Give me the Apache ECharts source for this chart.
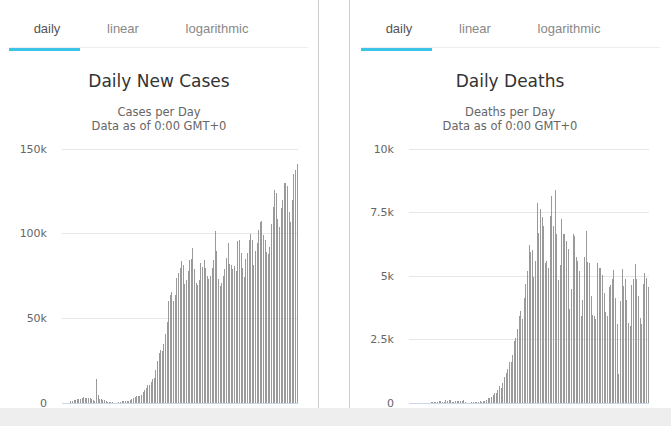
<!DOCTYPE html>
<html>
<head>
<meta charset="utf-8">
<title>Daily New Cases / Daily Deaths</title>
<style>
  html, body { margin: 0; padding: 0; background: #fff; }
  #main { width: 671px; height: 426px; }
  /* keeps the thin bars on whole pixels, like the original */
  #main svg path { shape-rendering: crispEdges; }
</style>
<script src="https://cdn.jsdelivr.net/npm/echarts@6/dist/echarts.min.js"></script>
</head>
<body>
<div id="main"></div>
<script>
// values, in thousands per day
var casesPerDay = [0.1, 0.1, 0.1, 0.2, 0.2, 1.2, 1.4, 1.5, 2, 2.1, 2.2, 2.6, 3, 3.5, 3.1, 3, 2.8, 3, 2.6, 2, 1.4,
  14, 4.7, 2.4, 2.2, 2, 1.8, 1.2, 0.8, 0.6, 0.6, 0.6, 0.2, 0.1, 0.2, 0.6, 0.8, 1, 1.2, 1.2, 1.2, 1.4,
  1.6, 2.2, 2.8, 3.5, 3.9, 3.9, 4.2, 4.6, 6.5, 7.5, 9, 10.4, 10.4, 12.4, 14, 15, 19.7, 25, 29.5, 31.5, 31, 35, 41, 48,
  60, 64, 65.5, 60, 63.7, 74, 76.7, 80, 83.8, 81.4, 70, 72.6, 77.9, 84.4, 85.2, 91.6, 79, 70.8, 69.6, 72.6, 82.6, 80.4, 84.4,
  80, 75, 73, 75, 79.6, 84.4, 101.5, 89.7, 73, 69, 71, 75, 79, 85.5, 94.4, 82, 81.4, 79, 80.8, 78, 95.6, 96.2, 88.5, 79.6, 74.3,
  85, 88.5, 96.2, 99.7, 96.2, 81.4, 89.7, 94.4, 102, 106.8, 107.4, 99, 96.2, 89, 88, 92, 106, 116, 125.7, 124, 108.6, 104, 115,
  120, 130, 130, 128, 112.7, 106.8, 120, 135, 137.5, 141]
var deathsPerDay = [0.01, 0.01, 0.01, 0.01, 0.01, 0.01, 0.01, 0.01, 0.01, 0.01, 0.01, 0.01, 0.01,
  0.04, 0.04, 0.04, 0.04, 0.04, 0.08, 0.08, 0.04, 0.03, 0.12, 0.08, 0.12, 0.12, 0.04, 0.03, 0.08, 0.08, 0.08, 0.08, 0.06, 0.12, 0.04,
  0.01, 0.01, 0.01, 0.04, 0.02, 0.04, 0.04, 0.04, 0.06, 0.05, 0.08, 0.08, 0.13, 0.18, 0.21, 0.25, 0.32, 0.38, 0.38, 0.5, 0.66, 0.58, 0.78,
  1.04, 1.2, 1.34, 1.6, 1.6, 1.89, 2.45, 2.55, 2.92, 3.43, 3.63, 3.31, 4.12, 4.69, 5.18, 6.22, 5.96, 6.03, 4.96, 5.59,
  7.87, 6.68, 7.64, 7.31, 6.95, 5.5, 5.59, 5.3, 7.36, 8.15, 6.97, 8.39, 6.64, 4.84, 5.44, 7.25, 6.64, 6.65,
  6.38, 6.07, 3.7, 4.49, 6.66, 6.58, 5.75, 5.59, 5.2, 3.43, 4.06, 5.75, 6.78, 5.55, 5.51, 4.21, 3.47, 3.43, 3.3,
  5.51, 5.32, 5.32, 5.04, 4.33, 3.58, 3.43, 4.57, 4.65, 4.88, 5.24, 4.14, 3.11, 1.14, 4.02, 5.28, 4.61, 4.88, 4.06, 3.15, 3.03,
  4.65, 4.88, 5.48, 4.88, 4.21, 3.35, 3.11, 4.69, 5.12, 4.92, 4.57]
var days = casesPerDay.map(function (v, i) { return i })
var tabNames = ['daily', 'linear', 'logarithmic']

var sansFont = '"DejaVu Sans", sans-serif'
var tabFont = '"Liberation Sans", Arial, sans-serif'

// tabs, underline, panel borders and the grey strip at the bottom
function tabBar(x0, x1, centers) {
  var els = [
    { type: 'line', shape: { x1: x0, y1: 47.5, x2: x1, y2: 47.5 }, style: { stroke: '#eeeeee', lineWidth: 1 } },
    { type: 'rect', shape: { x: x0, y: 48, width: 71, height: 3 }, style: { fill: '#3cc3e8' } }
  ]
  tabNames.forEach(function (name, i) {
    els.push({
      type: 'text', x: centers[i], y: 28.5,
      style: {
        text: name, fill: i === 0 ? '#555555' : '#888888', font: '13px ' + tabFont,
        textAlign: 'center', textVerticalAlign: 'middle'
      }
    })
  })
  return els
}

function subTitle(text, cx, y) {
  return {
    type: 'text', x: cx, y: y,
    style: { text: text, fill: '#666666', font: '11.5px ' + sansFont, textAlign: 'center', textVerticalAlign: 'middle' }
  }
}

function heading(text, cx) {
  return {
    type: 'text', x: cx, y: 81,
    style: { text: text, fill: '#333333', font: '17px ' + sansFont, textAlign: 'center', textVerticalAlign: 'middle' }
  }
}

var graphics = [
  { type: 'rect', shape: { x: 0, y: 408, width: 671, height: 18 }, style: { fill: '#eeeeee' } },
  { type: 'line', shape: { x1: 318.5, y1: 0, x2: 318.5, y2: 408 }, style: { stroke: '#cccccc', lineWidth: 1 } },
  { type: 'line', shape: { x1: 349.5, y1: 0, x2: 349.5, y2: 408 }, style: { stroke: '#cccccc', lineWidth: 1 } },
  heading('Daily New Cases', 159),
  heading('Daily Deaths', 510),
  subTitle('Cases per Day', 159, 111.5),
  subTitle('Data as of 0:00 GMT+0', 159, 126),
  subTitle('Deaths per Day', 510, 111.5),
  subTitle('Data as of 0:00 GMT+0', 510, 126)
].concat(tabBar(9, 308, [47, 123, 217])).concat(tabBar(361, 660, [399, 475, 569]))

function kLabel(v) {
  return v === 0 ? '0' : v + 'k'
}

var yAxisBase = {
  type: 'value', min: 0,
  axisLine: { show: false }, axisTick: { show: false },
  axisLabel: { color: '#666666', fontFamily: sansFont, fontSize: 11, margin: 15, formatter: kLabel },
  splitLine: { lineStyle: { color: '#e6e6e6', width: 1 } }
}

var option = {
  animation: false,
  backgroundColor: '#ffffff',
  graphic: { elements: graphics },
  grid: [
    { left: 62, top: 149, width: 236, height: 254 },
    { left: 409, top: 149, width: 240, height: 254 }
  ],
  xAxis: [0, 1].map(function (i) {
    return {
      type: 'category', gridIndex: i, data: days,
      axisLine: { lineStyle: { color: '#ccd6eb', width: 1 } },
      axisTick: { show: false }, axisLabel: { show: false }, splitLine: { show: false }
    }
  }),
  yAxis: [
    Object.assign({}, yAxisBase, { gridIndex: 0, max: 150, interval: 50 }),
    Object.assign({}, yAxisBase, { gridIndex: 1, max: 10, interval: 2.5 })
  ],
  series: [
    { type: 'bar', xAxisIndex: 0, yAxisIndex: 0, data: casesPerDay, barWidth: 1, itemStyle: { color: '#9a9a9a' } },
    { type: 'bar', xAxisIndex: 1, yAxisIndex: 1, data: deathsPerDay, barWidth: 1, itemStyle: { color: '#9a9a9a' } }
  ]
}

var myChart = echarts.init(document.getElementById('main'), null, { renderer: 'svg' })
myChart.setOption(option)
</script>
</body>
</html>
